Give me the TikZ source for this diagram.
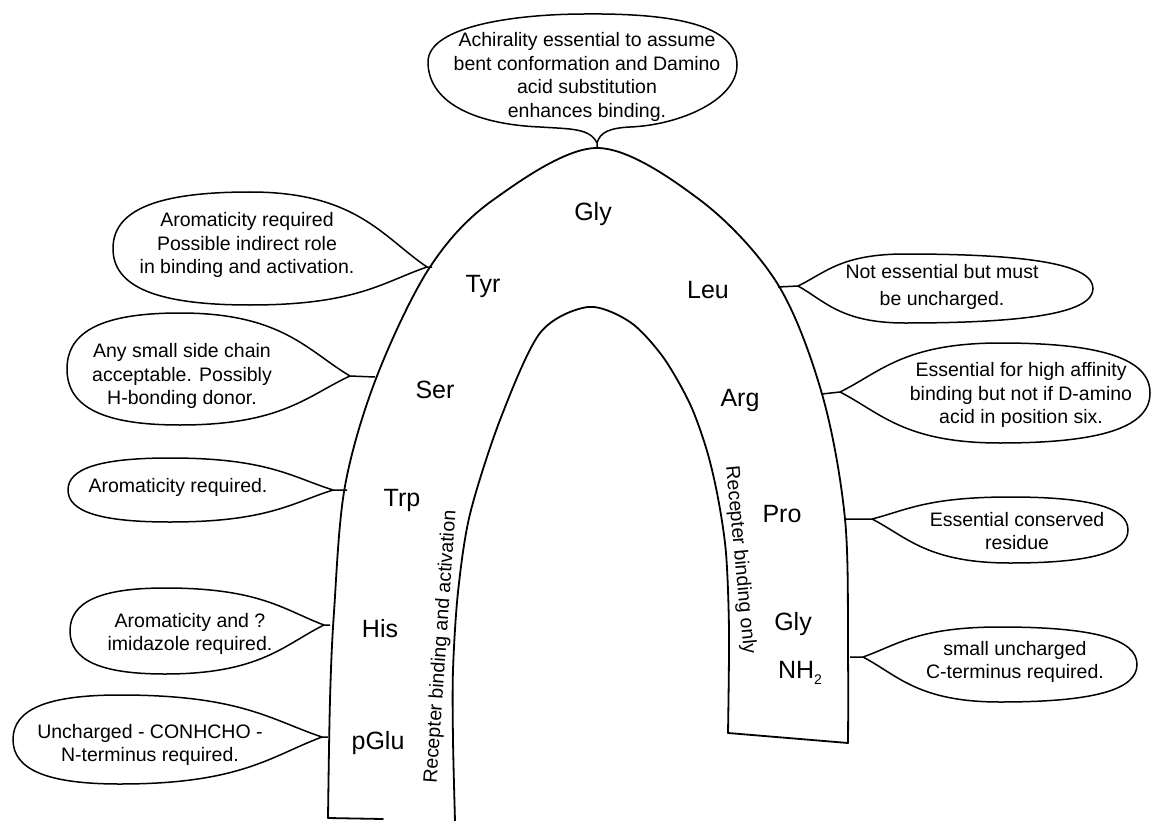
\documentclass[tikz,border=0pt]{standalone}
\usepackage{fontspec}
\setmainfont{Liberation Sans}
% #1,#2 arch point; #3,#4 tail junction; #5 far end x; #6 x of top/bottom extremes; #7 top y; #8 bottom y
\newcommand{\callout}[8]{%
  \pgfmathsetmacro\qqmid{(#7+#8)/2}%
  \pgfmathsetmacro\qqa{#3-0.25*(#3-#6)}%
  \pgfmathsetmacro\qqb{#6+0.6*(#3-#6)}%
  \pgfmathsetmacro\qqr{#6+0.68*(#5-#6)}%
  \pgfmathsetmacro\qqu{\qqmid-0.68*(\qqmid-#7)}%
  \pgfmathsetmacro\qqd{\qqmid+0.68*(#8-\qqmid)}%
  \pgfmathsetmacro\qqta{#4-0.4*(#4-#7)}%
  \pgfmathsetmacro\qqtb{#4+0.4*(#8-#4)}%
  \draw[bubble] (#1,#2) -- (#3,#4)
    .. controls (\qqa,\qqta) and (\qqb,#7) .. (#6,#7)
    .. controls (\qqr,#7) and (#5,\qqu) .. (#5,\qqmid)
    .. controls (#5,\qqd) and (\qqr,#8) .. (#6,#8)
    .. controls (\qqb,#8) and (\qqa,\qqtb) .. (#3,#4);
}
\begin{document}
\begin{tikzpicture}[x=1pt,y=-1pt,
  arch/.style={line width=1.8pt, line join=round, line cap=round},
  bubble/.style={line width=1.5pt, line join=round},
  btext/.style={align=center, font=\fontsize{19.5}{23.5}\selectfont, inner sep=0pt},
  res/.style={font=\fontsize{25}{30}\selectfont, inner sep=0pt},
  rtext/.style={font=\fontsize{19.5}{23.5}\selectfont, inner sep=0pt}]
\fill[white] (0,0) rectangle (1153,821);
\useasboundingbox (0,0) rectangle (1153,821);

% arch outline
\draw[arch] plot[smooth, tension=0.55] coordinates {(328,818) (330,700) (334,612) (345,486) (377,376) (430,267) (493,200) (597,148) (700,200) (777,283) (822,394) (845,519) (848,657) (848,743)};
\draw[arch] plot[smooth, tension=0.5] coordinates {(455,821) (453,740) (453,670) (458,592) (470,514) (500,420) (540,333) (588,307) (630,322) (663,357) (690,404) (707,451) (718,498) (726,553) (729,631) (728,733)};
\draw[arch] (328,818) -- (383,819);
\draw[arch] (728,733) -- (848,743);

% top callout
\draw[bubble] (597,148) -- (597,143)
  .. controls (590,128) and (570,129) .. (540,127)
  .. controls (470,124) and (428,100) .. (428,62)
  .. controls (428,25) and (520,14) .. (585,14)
  .. controls (690,13) and (737,30) .. (737,65)
  .. controls (737,100) and (680,125) .. (630,127)
  .. controls (610,128) and (600,132) .. (597,143);
\node[btext] (tGly) at (587,77) {Achirality essential to assume\\bent conformation and Damino\\acid substitution\\enhances binding.};

% left callouts
\callout{432}{267}{427}{267}{113}{250}{192}{305}
\node[btext] (tTyr) at (247,245) {Aromaticity required\\Possible indirect role\\in binding and activation.};
\callout{375}{377}{350}{376}{67}{180}{313}{425}
\node[btext] (tSer) at (182,376) {Any small side chain\\acceptable. Possibly\\H-bonding donor.};
\callout{347}{490}{333}{490}{68}{170}{458}{522}
\node[btext] (tTrp) at (178,487) {Aromaticity required.};
\callout{330}{625}{324}{625}{70}{165}{588}{674}
\node[btext] (tHis) at (190,634) {Aromaticity and ?\\imidazole required.};
\callout{328}{737}{322}{737}{13}{120}{695}{784}
\node[btext] (tGlu) at (150,745) {Uncharged - CONHCHO -\\N-terminus required.};

% right callouts
\callout{778}{287}{798}{286}{1093}{905}{254}{323}
\node[btext] (tLeu) at (942,287) {Not essential but must\\[4pt]be uncharged.};
\callout{822}{394}{840}{392}{1150}{1000}{343}{443}
\node[btext] (tArg) at (1021,395) {Essential for high affinity\\binding but not if D-amino\\acid in position six.};
\callout{845}{519}{872}{519}{1128}{1010}{497}{563}
\node[btext] (tPro) at (1017,531) {Essential conserved\\residue};
\callout{850}{657}{863}{657}{1137}{1000}{627}{702}
\node[btext] (tNH) at (1015,662) {small uncharged\\C-terminus required.};

% residues
\node[res] (Gly1) at (593,214) {Gly};
\node[res] (Tyr) at (483,286) {Tyr};
\node[res] (Leu) at (708,290) {Leu};
\node[res] (Ser) at (435,390) {Ser};
\node[res] (Arg) at (740,400) {Arg};
\node[res] (Trp) at (402,500) {Trp};
\node[res] (Pro) at (782,514) {Pro};
\node[res] (His) at (380,629) {His};
\node[res] (Gly2) at (793,624) {Gly};
\node[res] (NH) at (800,673) {NH\raisebox{-0.5ex}{\fontsize{14}{14}\selectfont 2}};
\node[res] (pGlu) at (378,743) {pGlu};

% rotated labels
\node[rtext, rotate=86] (lbl1) at (441,647) {Recepter binding and activation};
\node[rtext, rotate=-84.6] (lbl2) at (740,560) {Recepter binding only};
\end{tikzpicture}
\end{document}
